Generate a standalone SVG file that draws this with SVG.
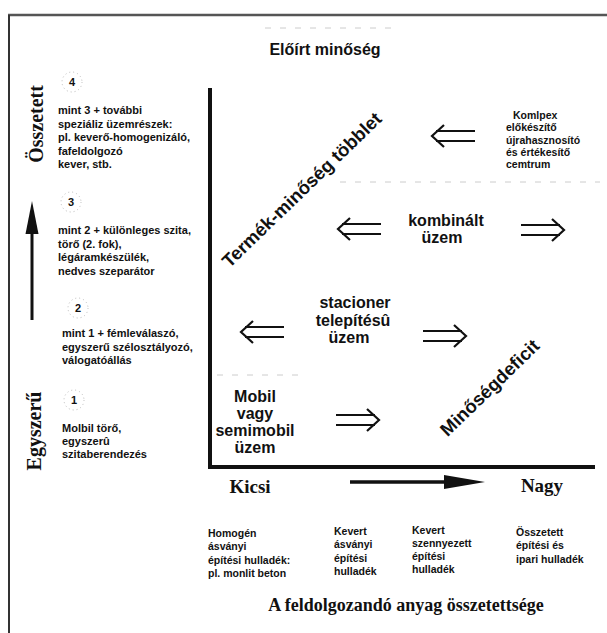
<svg xmlns="http://www.w3.org/2000/svg" width="607" height="633" viewBox="0 0 607 633">
<style>
.s{font-family:"Liberation Sans",Arial,sans-serif;font-weight:bold;fill:#111}
.t{font-family:"Liberation Serif","Times New Roman",serif;font-weight:bold;fill:#111}
.sm{font-size:11px}
.xs{font-size:10.5px}
.md{font-size:16px}
.lg{font-size:18.5px}
.num{font-size:11px;text-anchor:middle}
.c{text-anchor:middle}
.circ{fill:none;stroke:#aaa;stroke-width:0.8;stroke-dasharray:1 3}
.sep{stroke:#ccc;stroke-width:1;stroke-dasharray:6 9;fill:none}
.dbl{fill:none;stroke:#111;stroke-width:2.2}
</style>
<defs>
<path id="dr" class="dbl" d="M0,-5 H39 M0,5 H39 M31,-11 L43,0 L31,11"/>
</defs>
<rect width="607" height="633" fill="#fff"/>
<g id="frame">
<line x1="8" y1="15" x2="607" y2="15" stroke="#555" stroke-width="2.5"/>
<line x1="9" y1="15" x2="9" y2="633" stroke="#333" stroke-width="2"/>
<line x1="265" y1="28" x2="392" y2="28" class="sep"/>
<line x1="340" y1="182" x2="600" y2="182" class="sep"/>
<line x1="217" y1="375" x2="305" y2="375" class="sep"/>
</g>
<g id="axes">
<path d="M210,88 V467 H595" fill="none" stroke="#111" stroke-width="4"/>
</g>
<g id="title"><text class="s md c" x="325" y="55">Előírt minőség</text></g>
<g id="y-axis-labels">
<text class="t" font-size="20" text-anchor="middle" transform="translate(43,124) rotate(-90)">Összetett</text>
<text class="t" font-size="20" text-anchor="middle" transform="translate(41,431) rotate(-90)">Egyszerű</text>
</g>
<g id="level4">
<circle class="circ" cx="72" cy="82" r="10"/>
<text class="s num" x="72" y="86">4</text>
<text class="s sm" x="58" y="114"><tspan x="58">mint 3 + további</tspan><tspan x="58" dy="13.5">speziáliz üzemrészek:</tspan><tspan x="58" dy="13.5">pl. keverő-homogenizáló,</tspan><tspan x="58" dy="13.5">fafeldolgozó</tspan><tspan x="58" dy="13.5">kever, stb.</tspan></text>
</g>
<g id="level3">
<circle class="circ" cx="71" cy="202" r="10"/>
<text class="s num" x="71" y="206">3</text>
<text class="s sm" x="58" y="234"><tspan x="58">mint 2 + különleges szita,</tspan><tspan x="58" dy="13.5">törő (2. fok),</tspan><tspan x="58" dy="13.5">légáramkészülék,</tspan><tspan x="58" dy="13.5">nedves szeparátor</tspan></text>
</g>
<g id="level2">
<circle class="circ" cx="78" cy="308" r="10"/>
<text class="s num" x="78" y="312">2</text>
<text class="s sm" x="62" y="337"><tspan x="62">mint 1 + fémleválaszó,</tspan><tspan x="62" dy="13.5">egyszerű szélosztályozó,</tspan><tspan x="62" dy="13.5">válogatóállás</tspan></text>
</g>
<g id="level1">
<circle class="circ" cx="74" cy="400" r="10"/>
<text class="s num" x="74" y="404">1</text>
<text class="s sm" x="62" y="432"><tspan x="62">Molbil törő,</tspan><tspan x="62" dy="13">egyszerû</tspan><tspan x="62" dy="13">szitaberendezés</tspan></text>
</g>
<g id="surplus"><text class="s lg c" transform="translate(302,190) rotate(-44)" y="6">Termék-minőség többlet</text></g>
<g id="deficit"><text class="s lg c" transform="translate(490,388) rotate(-44)" y="6">Minőségdeficit</text></g>
<g id="komplex">
<text class="s xs" x="506" y="119"><tspan x="513">Komlpex</tspan><tspan x="506" dy="12.3">előkészítő</tspan><tspan x="506" dy="12.3">újrahasznosító</tspan><tspan x="506" dy="12.3">és értékesítő</tspan><tspan x="506" dy="12.3">cemtrum</tspan></text>
</g>
<g id="kombinalt">
<text class="s md c" x="446" y="226">kombinált</text>
<text class="s md c" x="442" y="243">üzem</text>
</g>
<g id="stacioner">
<text class="s md c" x="355" y="308"><tspan x="355">stacioner</tspan><tspan x="353" dy="17.5">telepítésû</tspan><tspan x="349" dy="17.5">üzem</tspan></text>
</g>
<g id="mobil">
<text class="s md c" x="255" y="402"><tspan x="255">Mobil</tspan><tspan x="255" dy="17">vagy</tspan><tspan x="255" dy="17">semimobil</tspan><tspan x="255" dy="17">üzem</tspan></text>
</g>
<g id="x-axis-labels">
<text class="t c" font-size="19" x="250" y="493">Kicsi</text>
<text class="t c" font-size="19" x="542" y="492">Nagy</text>
<text class="t c" font-size="18" x="406" y="611">A feldolgozandó anyag összetettsége</text>
</g>
<g id="categories">
<text class="s xs" x="208" y="537"><tspan x="208">Homogén</tspan><tspan x="208" dy="13.3">ásványi</tspan><tspan x="208" dy="13.3">építési hulladék:</tspan><tspan x="208" dy="13.3">pl. monlit beton</tspan></text>
<text class="s xs" x="334" y="535"><tspan x="334">Kevert</tspan><tspan x="334" dy="13.3">ásványi</tspan><tspan x="334" dy="13.3">építési</tspan><tspan x="334" dy="13.3">hulladék</tspan></text>
<text class="s xs" x="412" y="534"><tspan x="412">Kevert</tspan><tspan x="412" dy="13.1">szennyezett</tspan><tspan x="412" dy="13.1">építési</tspan><tspan x="412" dy="13.1">hulladék</tspan></text>
<text class="s xs" x="516" y="536"><tspan x="516">Összetett</tspan><tspan x="516" dy="13.3">építési és</tspan><tspan x="516" dy="13.3">ipari hulladék</tspan></text>
</g>
<g id="connectors">
<line x1="32" y1="320" x2="32" y2="225" stroke="#111" stroke-width="3"/>
<polygon points="25.5,234 32,201 38.5,234" fill="#111"/>
<line x1="350" y1="482" x2="455" y2="482" stroke="#111" stroke-width="3.5"/>
<polygon points="444,475 485,482 444,489" fill="#111"/>
<use href="#dr" transform="translate(475,136) scale(-1,1)"/>
<use href="#dr" transform="translate(381,229) scale(-1,1)"/>
<use href="#dr" transform="translate(521,230)"/>
<use href="#dr" transform="translate(284,332) scale(-1,1)"/>
<use href="#dr" transform="translate(423,336)"/>
<use href="#dr" transform="translate(336,420)"/>
</g>
</svg>
